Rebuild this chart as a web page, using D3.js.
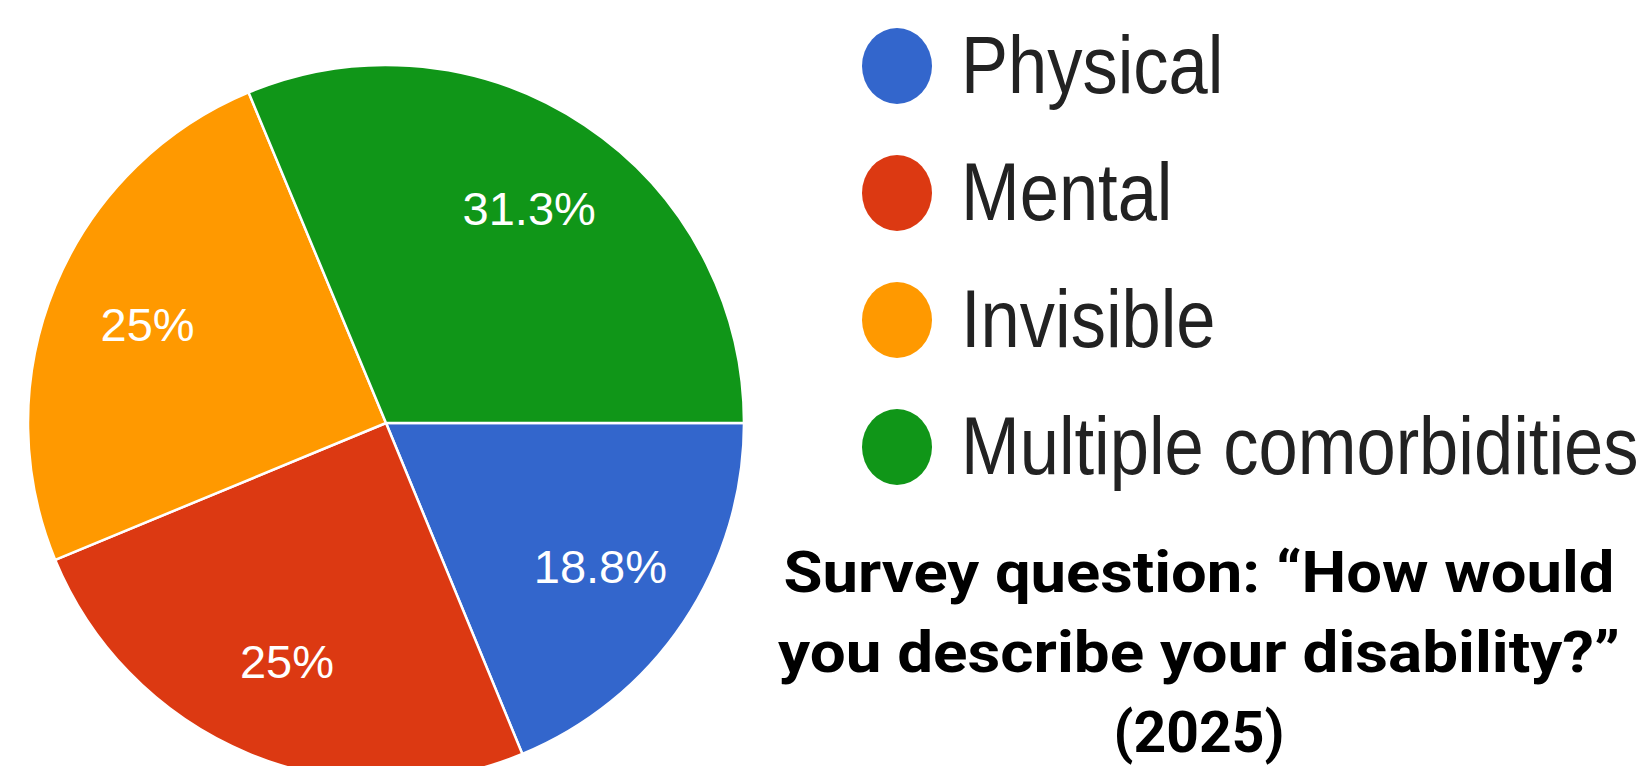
<!DOCTYPE html>
<html>
<head>
<meta charset="utf-8">
<script src="https://cdn.jsdelivr.net/npm/d3@7"></script>
<style>
  html, body { margin: 0; padding: 0; background: #fff; }
  svg { display: block; }
</style>
</head>
<body>
<svg id="chart"></svg>
<script>
// data
const categories = ["Physical", "Mental", "Invisible", "Multiple comorbidities"];
const percents = [18.8, 25, 25, 31.3];
const sliceLabels = ["18.8%", "25%", "25%", "31.3%"];
const colors = ["#3366cc", "#dc3912", "#ff9900", "#109618"];
const titleLines = ["Survey question: \u201cHow would", "you describe your disability?\u201d", "(2025)"];

const width = 1652, height = 766;
const cx = 386, cy = 423, radius = 358;

const svg = d3.select('#chart')
  .attr('width', width)
  .attr('height', height);

const color = d3.scaleOrdinal().domain(categories).range(colors);

const rows = categories.map((c, i) => ({ name: c, value: percents[i], label: sliceLabels[i] }));

// google style pie: first slice starts at 3 o'clock, clockwise
const pie = d3.pie()
  .value(d => d.value)
  .sort(null)
  .startAngle(Math.PI / 2)
  .endAngle(Math.PI / 2 + 2 * Math.PI);

const arc = d3.arc().innerRadius(0).outerRadius(radius);
const labelArc = d3.arc().innerRadius(258).outerRadius(258);

const g = svg.append('g').attr('transform', `translate(${cx},${cy})`);

g.selectAll('path.slice')
  .data(pie(rows))
  .enter()
  .append('path')
  .attr('class', 'slice')
  .attr('d', arc)
  .style('fill', d => color(d.data.name))
  .style('stroke', '#fff')
  .style('stroke-width', 2.5);

g.selectAll('text.pct')
  .data(pie(rows))
  .enter()
  .append('text')
  .attr('class', 'pct')
  .attr('transform', d => `translate(${labelArc.centroid(d)})`)
  .attr('text-anchor', 'middle')
  .attr('dy', '0.36em')
  .style('font-family', '"Liberation Sans", Arial, sans-serif')
  .style('font-size', '47px')
  .style('fill', '#fff')
  .text(d => d.data.label);

// legend
const legendY = d3.scalePoint().domain(categories).range([66, 447]);

const legend = svg.append('g').attr('class', 'legend')
  .selectAll('g')
  .data(categories)
  .enter()
  .append('g')
  .attr('transform', d => `translate(897,${legendY(d)})`);

legend.append('ellipse')
  .attr('rx', 35)
  .attr('ry', 38)
  .style('fill', d => color(d));

legend.append('text')
  .attr('transform', 'translate(64,27) scale(0.87,1)')
  .style('font-family', '"Liberation Sans", Arial, sans-serif')
  .style('font-size', '81px')
  .style('fill', '#222')
  .text(d => d);

// caption under the legend
const titleWidths = [831, 842, 171];
svg.append('g').attr('class', 'title')
  .selectAll('text')
  .data(titleLines)
  .enter()
  .append('text')
  .attr('x', 1199)
  .attr('y', (d, i) => 592 + i * 80)
  .attr('text-anchor', 'middle')
  .attr('textLength', (d, i) => titleWidths[i])
  .attr('lengthAdjust', 'spacingAndGlyphs')
  .style('font-family', 'Roboto, "Noto Sans", sans-serif')
  .style('font-weight', 700)
  .style('font-size', '57px')
  .style('fill', '#000')
  .text(d => d);
</script>
</body>
</html>
